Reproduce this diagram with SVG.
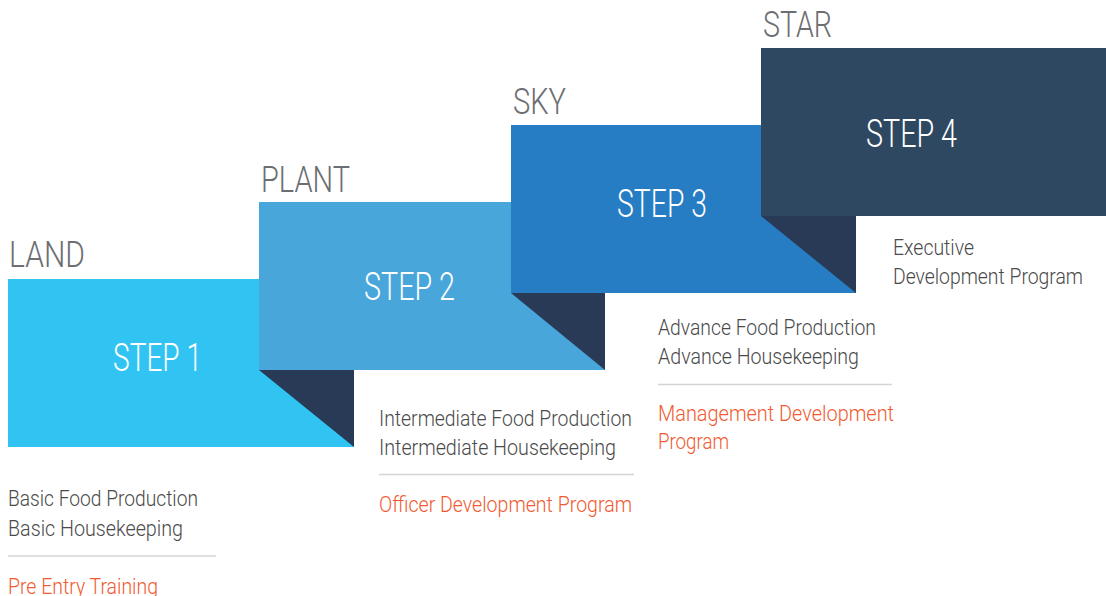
<svg xmlns="http://www.w3.org/2000/svg" width="1106" height="596" viewBox="0 0 1106 596">
<style>
.lbl{font-family:Roboto,"Liberation Sans",sans-serif;font-weight:300;font-size:36px;fill:#6d6e71}
.stp{font-family:Roboto,"Liberation Sans",sans-serif;font-weight:300;font-size:38px;fill:#ffffff}
.txt{font-family:Roboto,"Liberation Sans",sans-serif;font-weight:300;font-size:22px;fill:#4a4a4a}
.org{font-family:Roboto,"Liberation Sans",sans-serif;font-weight:300;font-size:22px;fill:#f15a30}
.fold{fill:#283a55}
.div{stroke:#d4d4d4;stroke-width:1.5}
</style>
<rect width="1106" height="596" fill="#ffffff"/>
<g id="step1">
<rect x="8" y="279" width="346" height="168" fill="#31c4f3"/>
<text class="lbl" x="9" y="267" textLength="76" lengthAdjust="spacingAndGlyphs">LAND</text>
<text class="stp" x="113" y="371" textLength="89" lengthAdjust="spacingAndGlyphs">STEP 1</text>
</g>
<g id="step2">
<rect x="259" y="202" width="346" height="168" fill="#48a6db"/>
<polygon class="fold" points="259,370 354,370 354,447"/>
<text class="lbl" x="261" y="192" textLength="89" lengthAdjust="spacingAndGlyphs">PLANT</text>
<text class="stp" x="364" y="300" textLength="91" lengthAdjust="spacingAndGlyphs">STEP 2</text>
</g>
<g id="step3">
<rect x="511" y="125" width="345" height="168" fill="#277dc3"/>
<polygon class="fold" points="511,293 605,293 605,370"/>
<text class="lbl" x="513" y="114" textLength="53" lengthAdjust="spacingAndGlyphs">SKY</text>
<text class="stp" x="617" y="217" textLength="90" lengthAdjust="spacingAndGlyphs">STEP 3</text>
</g>
<g id="step4">
<rect x="761" y="48" width="345" height="168" fill="#2e4862"/>
<polygon class="fold" points="761,216 856,216 856,293"/>
<text class="lbl" x="763" y="37" textLength="69" lengthAdjust="spacingAndGlyphs">STAR</text>
<text class="stp" x="866" y="147" textLength="91" lengthAdjust="spacingAndGlyphs">STEP 4</text>
</g>
<g id="info1">
<text class="txt" x="8" y="506" textLength="190" lengthAdjust="spacingAndGlyphs">Basic Food Production</text>
<text class="txt" x="8" y="536" textLength="175" lengthAdjust="spacingAndGlyphs">Basic Housekeeping</text>
<line class="div" x1="8" y1="556" x2="216" y2="556"/>
<text class="org" x="8" y="594" textLength="150" lengthAdjust="spacingAndGlyphs">Pre Entry Training</text>
</g>
<g id="info2">
<text class="txt" x="379" y="425.5" textLength="253" lengthAdjust="spacingAndGlyphs">Intermediate Food Production</text>
<text class="txt" x="379" y="454.5" textLength="237" lengthAdjust="spacingAndGlyphs">Intermediate Housekeeping</text>
<line class="div" x1="379" y1="474.5" x2="634" y2="474.5"/>
<text class="org" x="379" y="511.5" textLength="253" lengthAdjust="spacingAndGlyphs">Officer Development Program</text>
</g>
<g id="info3">
<text class="txt" x="658" y="335" textLength="218" lengthAdjust="spacingAndGlyphs">Advance Food Production</text>
<text class="txt" x="658" y="363.5" textLength="201" lengthAdjust="spacingAndGlyphs">Advance Housekeeping</text>
<line class="div" x1="658" y1="384.5" x2="892" y2="384.5"/>
<text class="org" x="658" y="420.5" textLength="236" lengthAdjust="spacingAndGlyphs">Management Development</text>
<text class="org" x="658" y="448.5" textLength="71" lengthAdjust="spacingAndGlyphs">Program</text>
</g>
<g id="info4">
<text class="txt" x="893" y="255" textLength="81" lengthAdjust="spacingAndGlyphs">Executive</text>
<text class="txt" x="893" y="283.5" textLength="190" lengthAdjust="spacingAndGlyphs">Development Program</text>
</g>
</svg>
